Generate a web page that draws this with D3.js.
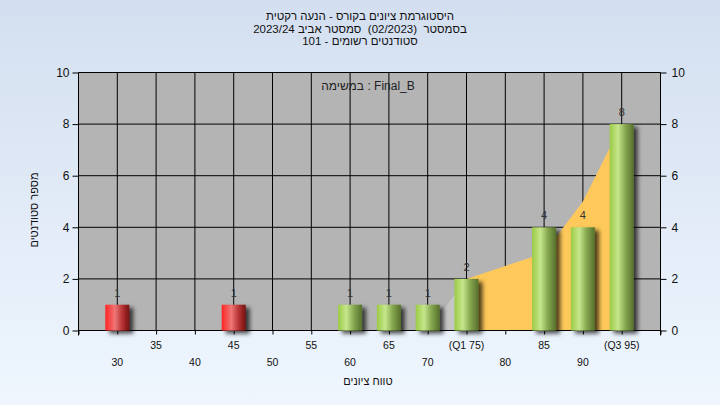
<!DOCTYPE html>
<html><head><meta charset="utf-8">
<script src="https://cdn.jsdelivr.net/npm/d3@7"></script>
<style>
html,body{margin:0;padding:0;}
body{width:720px;height:405px;overflow:hidden;}
svg{display:block;}
text{font-family:"Liberation Sans","DejaVu Sans",sans-serif;white-space:pre;}
</style></head>
<body>
<svg id="chart" width="720" height="405"></svg>
<script>
// ---- data ----
const titleLines = ["היסטוגרמת ציונים בקורס - הנעה רקטית", "בסמסטר  (02/2023)  סמסטר אביב 2023/24", "סטודנטים רשומים - 101"];
const taskLabel = "במשימה : Final_B";
const yTitle = "מספר סטודנטים";
const xTitle = "טווח ציונים";
const categories = [30, 35, 40, 45, 50, 55, 60, 65, 70, 75, 80, 85, 90, 95];
const tickLabels = ["30", "35", "40", "45", "50", "55", "60", "65", "70", "(Q1 75)", "80", "85", "90", "(Q3 95)"];
const counts = [1, 0, 0, 1, 0, 0, 1, 1, 1, 2, 0, 4, 4, 8];
const failing = [true, true, true, true, true, false, false, false, false, false, false, false, false, false];
const lowAreaX = [70, 75];
const lowAreaY = [0, 2];
const iqrAreaX = [75, 80, 85, 90, 95];
const iqrAreaY = [2, 2.5, 3, 5, 8];
const yTicks = [0, 2, 4, 6, 8, 10];

// ---- setup ----
const svg = d3.select("#chart");
const defs = svg.append("defs");
const bg = defs.append("linearGradient").attr("id", "bg").attr("x1", 0).attr("y1", 0).attr("x2", 0).attr("y2", 1);
bg.append("stop").attr("offset", "0%").attr("stop-color", "#d3dff0");
bg.append("stop").attr("offset", "100%").attr("stop-color", "#eff6fe");
function barGrad(id, stops) {
  const g = defs.append("linearGradient").attr("id", id).attr("x1", 0).attr("y1", 0).attr("x2", 1).attr("y2", 0);
  stops.forEach(s => g.append("stop").attr("offset", s[0]).attr("stop-color", s[1]));
}
barGrad("gGreen", [["0%", "#9bcb45"], ["35%", "#c6e68c"], ["65%", "#86a850"], ["100%", "#566f2c"]]);
barGrad("gRed", [["0%", "#ff2424"], ["40%", "#ee7676"], ["70%", "#b83434"], ["100%", "#741212"]]);
const f = defs.append("filter").attr("id", "shadow").attr("x", "-20%").attr("y", "-20%").attr("width", "160%").attr("height", "140%");
f.append("feDropShadow").attr("dx", 4).attr("dy", 3).attr("stdDeviation", 2).attr("flood-color", "#000").attr("flood-opacity", 0.7);

svg.append("rect").attr("width", 720).attr("height", 405).attr("fill", "url(#bg)");

const x = d3.scaleLinear().domain([25, 100]).range([78.5, 660.5]);
const y = d3.scaleLinear().domain([0, 10]).range([330.5, 72.5]);

// plot background
svg.append("rect").attr("x", x(25)).attr("y", y(10)).attr("width", x(100) - x(25)).attr("height", y(0) - y(10)).attr("fill", "#b4b4b4");

// gridlines
const grid = svg.append("g").attr("stroke", "#000").attr("stroke-width", 1);
grid.selectAll("line.h").data(yTicks).join("line").attr("class", "h")
  .attr("x1", x(25)).attr("x2", x(100)).attr("y1", d => y(d)).attr("y2", d => y(d));
grid.selectAll("line.v").data(categories).join("line").attr("class", "v")
  .attr("x1", d => x(d)).attr("x2", d => x(d)).attr("y1", y(10)).attr("y2", y(0));

// areas
const area = d3.area().x(d => x(d[0])).y0(y(0)).y1(d => y(d[1]));
svg.append("path").datum(lowAreaX.map((v, i) => [v, lowAreaY[i]])).attr("d", area).attr("fill", "#c6c6c6");
svg.append("path").datum(iqrAreaX.map((v, i) => [v, iqrAreaY[i]])).attr("d", area).attr("fill", "#fec95a");

// axes
const axB = d3.axisBottom(x).tickValues(d3.range(25, 101, 5)).tickSize(4).tickFormat("");
svg.append("g").attr("transform", `translate(0,${y(0)})`).call(axB)
  .call(g => { g.select(".domain").remove(); g.selectAll("line").attr("stroke", "#000"); });
svg.append("line").attr("x1", x(25)).attr("x2", x(100)).attr("y1", y(0)).attr("y2", y(0)).attr("stroke", "#000");
svg.append("line").attr("x1", x(25)).attr("x2", x(25)).attr("y1", y(10)).attr("y2", y(0) + 5).attr("stroke", "#000");
svg.append("line").attr("x1", x(100)).attr("x2", x(100)).attr("y1", y(10)).attr("y2", y(0) + 5).attr("stroke", "#000");

const axL = d3.axisLeft(y).tickValues(yTicks).tickSize(6).tickPadding(3);
svg.append("g").attr("transform", `translate(${x(25)},0)`).call(axL)
  .call(g => { g.select(".domain").remove(); g.selectAll("line").attr("stroke", "#000");
    g.selectAll("text").attr("font-size", 12).attr("fill", "#111").attr("font-family", "Liberation Sans"); });
const axR = d3.axisRight(y).tickValues(yTicks).tickSize(6).tickPadding(5);
svg.append("g").attr("transform", `translate(${x(100)},0)`).call(axR)
  .call(g => { g.select(".domain").remove(); g.selectAll("line").attr("stroke", "#000");
    g.selectAll("text").attr("font-size", 12).attr("fill", "#111").attr("font-family", "Liberation Sans"); });

// x tick labels (two rows)
svg.append("g").selectAll("text").data(categories).join("text")
  .attr("x", d => x(d)).attr("y", (d, i) => i % 2 === 0 ? 366 : 349)
  .attr("text-anchor", "middle").attr("font-size", 10.5).attr("fill", "#111")
  .attr("direction", "ltr")
  .text((d, i) => tickLabels[i]);

// bars
const bw = 24;
const bars = categories.map((c, i) => ({c, v: counts[i], fail: failing[i]})).filter(d => d.v > 0);
svg.append("g").attr("filter", "url(#shadow)").selectAll("rect").data(bars).join("rect")
  .attr("x", d => x(d.c) - bw / 2).attr("y", d => y(d.v)).attr("width", bw).attr("height", d => y(0) - y(d.v))
  .attr("fill", d => d.fail ? "url(#gRed)" : "url(#gGreen)");
svg.append("g").selectAll("text").data(bars).join("text")
  .attr("x", d => x(d.c)).attr("y", d => y(d.v) - 8)
  .attr("text-anchor", "middle").attr("font-size", 11).attr("fill", "#333")
  .text(d => d.v);

// texts
svg.append("g").selectAll("text").data(titleLines).join("text")
  .attr("x", 360).attr("y", (d, i) => 20 + i * 12.5)
  .attr("text-anchor", "middle").attr("font-size", 11.5).attr("fill", "#111").attr("direction", "ltr")
  .attr("xml:space", "preserve")
  .text(d => d);
svg.append("text").attr("x", 368).attr("y", 90).attr("text-anchor", "middle").attr("font-size", 12)
  .attr("fill", "#222").attr("direction", "ltr").text(taskLabel);
svg.append("text").attr("transform", "translate(38,210) rotate(-90)").attr("text-anchor", "middle")
  .attr("font-size", 11).attr("fill", "#111").text(yTitle);
svg.append("text").attr("x", 368).attr("y", 385).attr("text-anchor", "middle").attr("font-size", 11)
  .attr("fill", "#111").text(xTitle);
</script>
</body></html>
